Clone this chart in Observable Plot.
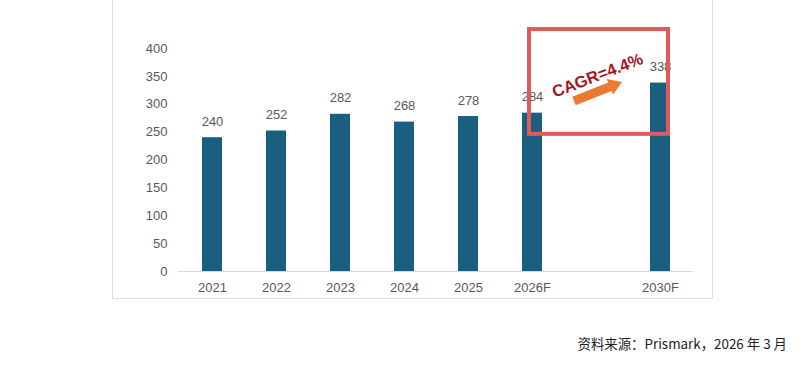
<!DOCTYPE html>
<html>
<head>
<meta charset="utf-8">
<script src="https://cdn.jsdelivr.net/npm/d3@7"></script>
<script src="https://cdn.jsdelivr.net/npm/@observablehq/plot@0.6"></script>
<style>
  html, body { margin: 0; padding: 0; background: #fff; }
  #wrap { position: relative; width: 812px; height: 365px; overflow: hidden; }
  #frame { position: absolute; left: 112px; top: -4px; width: 601px; height: 303px; border: 1px solid #dcdcdc; box-sizing: border-box; }
  #chart { position: absolute; left: 0; top: 0; }
  #source { position: absolute; right: 25px; top: 333px; font-family: "Noto Sans CJK SC", sans-serif; font-size: 13.4px; color: #222; white-space: nowrap; }
</style>
</head>
<body>
<div id="wrap">
  <div id="frame"></div>
  <div id="chart"></div>
  <div id="source">资料来源：Prismark，2026 年 3 月</div>
</div>
<script>
const categories = ["2021", "2022", "2023", "2024", "2025", "2026F", " ", "2030F"];
const years = ["2021", "2022", "2023", "2024", "2025", "2026F", "2030F"];
const values = [240, 252, 282, 268, 278, 284, 338];
const yTicks = [0, 50, 100, 150, 200, 250, 300, 350, 400];
const cagrLabel = "CAGR=4.4%";

const data = years.map((y, i) => ({year: y, value: values[i]}));

const plot = Plot.plot({
  width: 812,
  height: 300,
  marginLeft: 178,
  marginRight: 119,
  marginTop: 48,
  marginBottom: 29,
  style: {fontFamily: "'Liberation Sans', Arial, sans-serif", fontSize: "13px", color: "#595959", background: "transparent"},
  x: {domain: categories, paddingInner: 0.69, paddingOuter: 0.345},
  y: {domain: [0, 400]},
  marks: [
    Plot.ruleY([0], {stroke: "#d9d9d9", strokeWidth: 1}),
    Plot.barY(data, {x: "year", y: "value", fill: "#1b5f80"}),
    Plot.text(data, {x: "year", y: "value", text: d => String(d.value), dy: -16, fill: "#595959", fontSize: 13}),
    Plot.axisY({ticks: yTicks, tickSize: 0, tickPadding: 11, label: null}),
    Plot.axisX({tickSize: 0, tickPadding: 11, label: null})
  ]
});

document.getElementById("chart").appendChild(plot);

// Annotation: red box + arrow + CAGR text, positioned through the plot's scales
const xs = plot.scale("x");
const ys = plot.scale("y");
const bw = xs.bandwidth;
const ns = "http://www.w3.org/2000/svg";
const g = document.createElementNS(ns, "g");
plot.appendChild(g);

const bx1 = xs.apply("2026F") + 7;
const bx2 = xs.apply("2030F") + bw - 2;
const by1 = ys.apply(434);
const by2 = ys.apply(246);
const rect = document.createElementNS(ns, "rect");
rect.setAttribute("x", bx1);
rect.setAttribute("y", by1);
rect.setAttribute("width", bx2 - bx1);
rect.setAttribute("height", by2 - by1);
rect.setAttribute("fill", "none");
rect.setAttribute("stroke", "#e05a5c");
rect.setAttribute("stroke-width", 4);
g.appendChild(rect);

// arrow
const mid = xs.apply(" ");
const tailX = mid - 12, tailY = ys.apply(305);
const tipX = mid + 36, tipY = ys.apply(339);
const ang = Math.atan2(tipY - tailY, tipX - tailX) * 180 / Math.PI;
const len = Math.hypot(tipX - tailX, tipY - tailY);
const arrow = document.createElementNS(ns, "path");
const sw = 4.5, hw = 8.5, hl = 13;
arrow.setAttribute("d", `M0,${-sw} L${len - hl},${-sw} L${len - hl},${-hw} L${len},0 L${len - hl},${hw} L${len - hl},${sw} L0,${sw} Z`);
arrow.setAttribute("fill", "#ec7a31");
arrow.setAttribute("transform", `translate(${tailX},${tailY}) rotate(${ang})`);
g.appendChild(arrow);

const t = document.createElementNS(ns, "text");
t.textContent = cagrLabel;
t.setAttribute("x", 0);
t.setAttribute("y", 0);
t.setAttribute("text-anchor", "middle");
t.setAttribute("dominant-baseline", "middle");
t.setAttribute("font-family", "'Liberation Sans', Arial, sans-serif");
t.setAttribute("font-weight", "bold");
t.setAttribute("font-size", "16.5");
t.setAttribute("fill", "#a3161e");
t.setAttribute("transform", `translate(${mid + 12},${ys.apply(349)}) rotate(-21)`);
g.appendChild(t);
</script>
</body>
</html>
